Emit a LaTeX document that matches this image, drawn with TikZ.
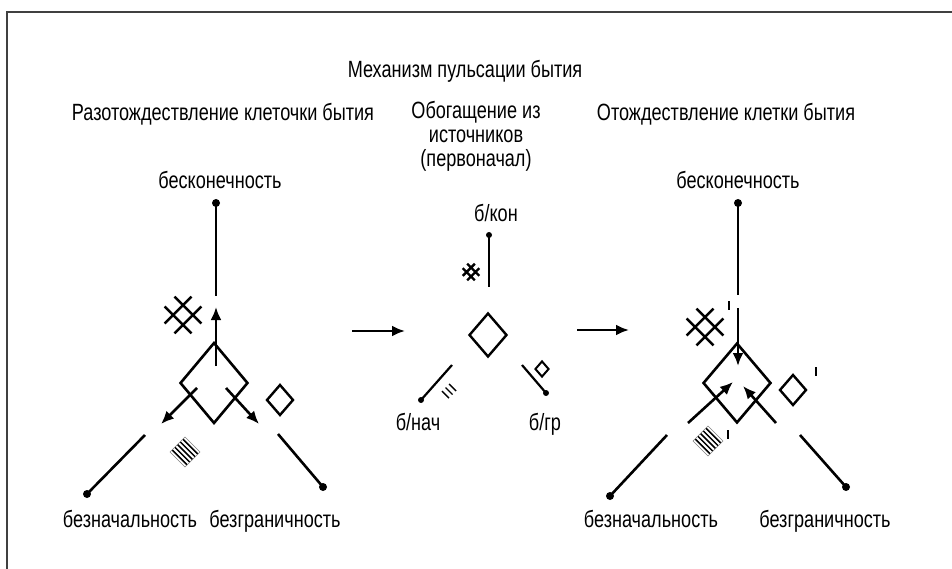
\documentclass[tikz,border=0pt]{standalone}
\usepackage{fontspec}
\setmainfont{Liberation Sans}[FakeStretch=0.77]
\usetikzlibrary{arrows.meta,shapes.geometric,calc}
\tikzset{
  ln/.style={line width=2.6pt},
  arr/.style={line width=2.6pt,-{Latex[length=13pt,width=11pt]}},
  dotn/.style={circle,fill=black,inner sep=0pt,minimum size=8pt},
  lbl/.style={font=\fontsize{23.5}{28}\selectfont,anchor=base,inner sep=0pt},
  dia/.style={diamond,draw,line width=2.6pt,inner sep=0pt},
  prm/.style={line width=2.6pt},
  gridsym/.pic={\draw[line width=2.4pt] (-8.5,-18.4)--(18.4,8.5) (-18.4,-8.5)--(8.5,18.4)
      (-8.5,18.4)--(18.4,-8.5) (-18.4,8.5)--(8.5,-18.4);},
  stripesym/.pic={
      \foreach \k in {0.14,0.32,0.5,0.68,0.86}{
        \draw[line width=1.5pt] ({-15*\k},{-15+15*\k}) -- ({15-15*\k},{15*\k});}
      \draw[line width=0.4pt,gray] (0,-15)--(15,0)--(0,15)--(-15,0)--cycle;},
}
\begin{document}
\begin{tikzpicture}[x=1pt,y=-1pt]
\useasboundingbox (0,0) rectangle (952,569);
% frame
\draw[line width=1.3pt,black!75] (7,569) -- (7,12) -- (952,12);

% headings
\node[lbl] (title) at (465,78) {Механизм пульсации бытия};
\node[lbl] (h1) at (223,121) {Разотождествление клеточки бытия};
\node[lbl] (h2a) at (476,119) {Обогащение из};
\node[lbl] (h2b) at (476,143) {источников};
\node[lbl] (h2c) at (476,167) {(первоначал)};
\node[lbl] (h3) at (726,121) {Отождествление клетки бытия};

% ===== left diagram =====
\node[lbl] (Linf) at (220,189) {бесконечность};
\node[dotn] (Ltop) at (216,203) {};
\coordinate (LtopE) at (216,296);
\draw[ln] (Ltop.center) -- (LtopE);
\node[dia,minimum width=68pt,minimum height=81pt] (Ld) at (214,383) {};
\coordinate (La0) at (216,366);
\coordinate (La1) at (216,307);
\draw[arr] (La0) -- (La1);
\coordinate (Lb0) at (197,388);
\coordinate (Lb1) at (161,424);
\draw[arr] (Lb0) -- (Lb1);
\coordinate (Lc0) at (226,388);
\coordinate (Lc1) at (259,424);
\draw[arr] (Lc0) -- (Lc1);
\coordinate (LlS) at (145,435);
\node[dotn] (Lldot) at (87,494) {};
\draw[ln] (LlS) -- (Lldot.center);
\coordinate (LrS) at (278,434);
\node[dotn] (Lrdot) at (323,487) {};
\draw[ln] (LrS) -- (Lrdot.center);
\node[lbl] (Lnach) at (130,527) {безначальность};
\node[lbl] (Lgr) at (275,527) {безграничность};
\pic at (183,315) {gridsym};
\node[dia,line width=2.4pt,minimum width=27pt,minimum height=31pt] (Lsd) at (280,400) {};
\pic at (185,452) {stripesym};

% arrows between
\coordinate (m1a) at (352,331);
\coordinate (m1b) at (405,331);
\draw[arr] (m1a) -- (m1b);
\coordinate (m2a) at (577,330);
\coordinate (m2b) at (629,330);
\draw[arr] (m2a) -- (m2b);

% ===== middle diagram =====
\node[lbl] (Mkon) at (496,222) {б/кон};
\node[dotn,minimum size=6pt] (Mtop) at (489,235) {};
\coordinate (MtopE) at (489,287);
\draw[ln,line width=2.2pt] (Mtop.center) -- (MtopE);
\pic[scale=0.45] at (471,272) {gridsym};
\node[dia,line width=2.4pt,minimum width=38pt,minimum height=44pt] (Md) at (488,335) {};
\coordinate (MlS) at (452,365);
\node[dotn,minimum size=6pt] (Mldot) at (421,400) {};
\draw[ln,line width=2.2pt] (MlS) -- (Mldot.center);
\coordinate (Mh) at (449,391);
\foreach \i in {-1,0,1}{
  \draw[line width=1.4pt] ($(Mh)+(\i*3.6,-\i*3.6)+(-3.5,-3.5)$) -- ++(7,7);
}
\coordinate (MrS) at (522,365);
\node[dotn,minimum size=6pt] (Mrdot) at (546,393) {};
\draw[ln,line width=2.2pt] (MrS) -- (Mrdot.center);
\node[dia,line width=2pt,minimum width=14pt,minimum height=16pt] (Msd) at (542,369) {};
\node[lbl] (Mnach) at (418,430) {б/нач};
\node[lbl] (Mgr) at (545,430) {б/гр};

% ===== right diagram =====
\node[lbl] (Rinf) at (738,189) {бесконечность};
\node[dotn] (Rtop) at (738,203) {};
\coordinate (RtopE) at (738,295);
\draw[ln] (Rtop.center) -- (RtopE);
\node[dia,minimum width=68pt,minimum height=80pt] (Rd) at (737,383) {};
\coordinate (Ra0) at (738,308);
\coordinate (Ra1) at (738,366);
\draw[arr] (Ra0) -- (Ra1);
\coordinate (Rb0) at (688,423);
\coordinate (Rb1) at (733,382);
\draw[arr] (Rb0) -- (Rb1);
\coordinate (Rc0) at (776,423);
\coordinate (Rc1) at (743,386);
\draw[arr] (Rc0) -- (Rc1);
\coordinate (RlS) at (667,435);
\node[dotn] (Rldot) at (610,496) {};
\draw[ln] (RlS) -- (Rldot.center);
\coordinate (RrS) at (800,435);
\node[dotn] (Rrdot) at (846,487) {};
\draw[ln] (RrS) -- (Rrdot.center);
\node[lbl] (Rnach) at (651,527) {безначальность};
\node[lbl] (Rgr) at (825,527) {безграничность};
\pic at (705,327) {gridsym};
\coordinate (Rp1) at (729,301);
\draw[prm] (Rp1) -- ++(0,9);
\node[dia,line width=2.4pt,minimum width=27pt,minimum height=31pt] (Rsd) at (793,390) {};
\coordinate (Rp2) at (816,367);
\draw[prm] (Rp2) -- ++(0,9);
\pic at (708,441) {stripesym};
\coordinate (Rp3) at (728,430);
\draw[prm] (Rp3) -- ++(0,9);
\end{tikzpicture}
\end{document}
